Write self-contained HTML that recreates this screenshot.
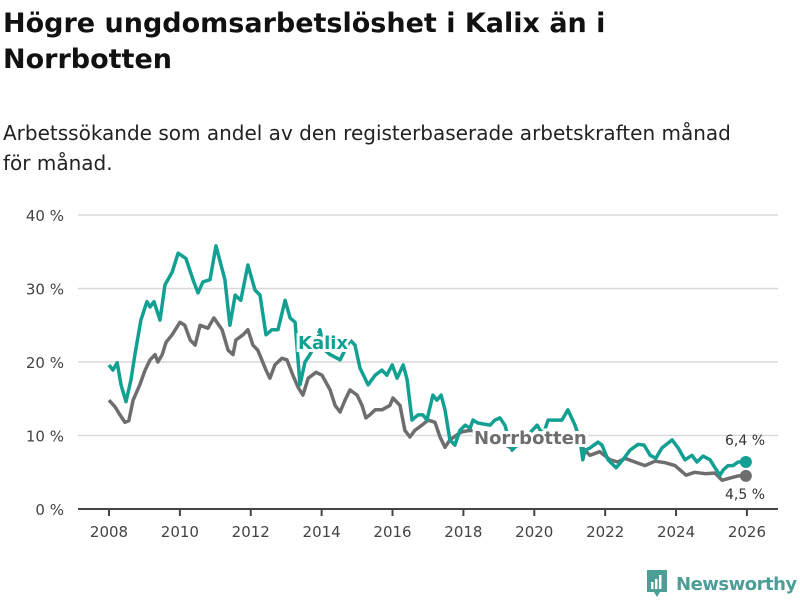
<!DOCTYPE html>
<html><head><meta charset="utf-8"><style>
body{margin:0;width:800px;height:600px;background:#fff;font-family:"DejaVu Sans","Liberation Sans",sans-serif;overflow:hidden;position:relative}
h1{position:absolute;left:3px;top:6px;margin:0;font-size:27px;line-height:36px;font-weight:bold;color:#111;width:640px}
p{position:absolute;left:3px;top:118px;margin:0;font-size:20px;line-height:30px;color:#222;width:760px}
svg{position:absolute;left:0;top:0}
</style></head><body>
<h1>Högre ungdomsarbetslöshet i Kalix än i Norrbotten</h1>
<p>Arbetssökande som andel av den registerbaserade arbetskraften månad för månad.</p>
<svg id="c" width="800" height="600"></svg>
<script>
const yTicks=[0,10,20,30,40];
const yTickLabels=["0 %","10 %","20 %","30 %","40 %"];
const xTicks=[2008,2010,2012,2014,2016,2018,2020,2022,2024,2026];
const kalixT=[2008.00,2008.11,2008.23,2008.34,2008.48,2008.62,2008.73,2008.90,2009.07,2009.16,2009.27,2009.44,2009.58,2009.78,2009.95,2010.17,2010.37,2010.51,2010.65,2010.85,2011.02,2011.27,2011.41,2011.56,2011.72,2011.92,2012.12,2012.26,2012.43,2012.60,2012.77,2012.97,2013.11,2013.25,2013.39,2013.53,2013.67,2013.81,2013.95,2014.09,2014.24,2014.52,2014.80,2014.94,2015.08,2015.31,2015.51,2015.70,2015.84,2015.99,2016.13,2016.30,2016.41,2016.55,2016.72,2016.86,2016.97,2017.14,2017.25,2017.37,2017.48,2017.62,2017.76,2017.90,2018.05,2018.19,2018.27,2018.41,2018.75,2018.89,2019.03,2019.17,2019.37,2019.51,2019.65,2019.94,2020.08,2020.25,2020.39,2020.58,2020.78,2020.95,2021.15,2021.29,2021.37,2021.43,2021.57,2021.80,2021.91,2022.08,2022.31,2022.50,2022.70,2022.93,2023.10,2023.27,2023.43,2023.60,2023.89,2024.06,2024.25,2024.45,2024.59,2024.76,2024.96,2025.10,2025.24,2025.33,2025.47,2025.61,2025.75,2025.97];
const kalixV=[19.6,18.9,19.9,16.9,14.6,17.6,21.0,25.7,28.2,27.5,28.2,25.7,30.5,32.2,34.8,34.1,31.2,29.4,30.9,31.2,35.8,31.2,25.0,29.1,28.4,33.2,29.8,29.1,23.7,24.4,24.4,28.4,26.0,25.4,16.9,20.0,21.0,22.3,24.4,21.6,21.0,20.3,23.0,22.3,19.2,16.9,18.2,18.9,18.2,19.6,17.8,19.6,17.6,12.1,12.8,12.8,12.1,15.5,14.8,15.5,13.5,9.4,8.7,10.7,11.4,11.0,12.1,11.7,11.4,12.1,12.4,11.4,8.0,8.7,9.4,10.7,11.4,10.1,12.1,12.1,12.1,13.5,11.4,9.4,6.7,8.0,8.3,9.1,8.7,6.7,5.6,6.7,8.0,8.8,8.7,7.3,6.9,8.3,9.4,8.3,6.7,7.3,6.4,7.2,6.7,5.6,4.6,5.3,5.9,5.9,6.4,6.4];
const norrT=[2008.00,2008.17,2008.31,2008.45,2008.56,2008.68,2008.87,2009.02,2009.16,2009.30,2009.38,2009.50,2009.61,2009.78,2010.00,2010.14,2010.29,2010.43,2010.57,2010.79,2010.96,2011.19,2011.36,2011.50,2011.58,2011.78,2011.92,2012.06,2012.20,2012.43,2012.54,2012.68,2012.88,2013.02,2013.19,2013.33,2013.47,2013.62,2013.84,2014.01,2014.24,2014.38,2014.52,2014.66,2014.80,2015.00,2015.14,2015.25,2015.36,2015.51,2015.70,2015.93,2016.01,2016.21,2016.35,2016.49,2016.63,2016.83,2017.00,2017.20,2017.34,2017.48,2017.62,2017.82,2017.96,2018.19,2018.41,2018.80,2019.31,2019.60,2019.88,2020.16,2020.58,2021.01,2021.29,2021.57,2021.85,2022.14,2022.36,2022.56,2022.84,2023.12,2023.41,2023.69,2023.97,2024.28,2024.53,2024.82,2025.10,2025.30,2025.52,2025.75,2025.97];
const norrV=[14.8,13.9,12.8,11.8,12.0,14.8,16.9,18.9,20.3,21.0,20.0,21.0,22.7,23.7,25.4,25.0,23.0,22.3,25.0,24.6,26.0,24.4,21.6,21.0,23.0,23.7,24.4,22.3,21.6,18.9,17.8,19.6,20.5,20.3,18.2,16.6,15.5,17.8,18.6,18.2,16.2,14.1,13.2,14.8,16.2,15.5,14.1,12.4,12.8,13.5,13.5,14.1,15.1,14.1,10.7,9.8,10.7,11.4,12.1,11.8,9.8,8.4,9.4,10.1,10.5,10.7,10.5,9.8,8.4,8.7,9.4,9.7,9.4,10.1,8.7,7.3,7.8,6.7,6.4,6.9,6.4,5.9,6.5,6.3,5.9,4.6,5.0,4.8,4.9,3.9,4.2,4.5,4.5];
const NS="http://www.w3.org/2000/svg",svg=document.getElementById('c');
const X=t=>109+(t-2008)*35.44, Y=v=>509-v*7.35;
function mk(tag,at,txt){const e=document.createElementNS(NS,tag);for(const k in at)e.setAttribute(k,at[k]);if(txt!=null)e.textContent=txt;svg.appendChild(e);return e;}
yTicks.forEach((v,i)=>{
 if(v>0){const g=mk('line',{x1:78,x2:778,y1:Y(v),y2:Y(v),stroke:'#d9d9d9','stroke-width':1.5});
 
 }
 const t=mk('text',{x:64,y:Y(v)+6,'text-anchor':'end','font-size':15,fill:'#444'},yTickLabels[i]);
 
 
});
const ax=mk('line',{x1:78,x2:778,y1:509,y2:509,stroke:'#444','stroke-width':2});


xTicks.forEach(yr=>{
 const tk=mk('line',{x1:X(yr),x2:X(yr),y1:509,y2:516,stroke:'#444','stroke-width':2});
 
 
 const t=mk('text',{x:X(yr),y:537,'text-anchor':'middle','font-size':15,fill:'#444'},String(yr));
 
 
});
function line(T,V,col,name){
 const d=T.map((t,i)=>(i?'L':'M')+X(t).toFixed(1)+','+Y(V[i]).toFixed(1)).join('');
 const p=mk('path',{d:d,fill:'none',stroke:col,'stroke-width':3.5,'stroke-linejoin':'round'});
 
 
}
line(norrT,norrV,'#6e6e70','norrbotten-line');
line(kalixT,kalixV,'#12a093','kalix-line');
const dk=mk('circle',{cx:X(kalixT[kalixT.length-1]),cy:Y(kalixV[kalixV.length-1]),r:6,fill:'#12a093'});


const dn=mk('circle',{cx:X(norrT[norrT.length-1]),cy:Y(norrV[norrV.length-1]),r:6,fill:'#6e6e70'});


const lk=mk('text',{x:745,y:445,'text-anchor':'middle','font-size':14,fill:'#333'},kalixV[kalixV.length-1].toFixed(1).replace('.',',')+' %');


const ln=mk('text',{x:745,y:499,'text-anchor':'middle','font-size':14,fill:'#333'},norrV[norrV.length-1].toFixed(1).replace('.',',')+' %');


const kl=mk('text',{x:298,y:349,'font-size':18,'font-weight':'bold',fill:'#12a093',stroke:'#fff','stroke-width':6,'paint-order':'stroke'},'Kalix');


const nl=mk('text',{x:474,y:444,'font-size':18,'font-weight':'bold',fill:'#6e6e70',stroke:'#fff','stroke-width':6,'paint-order':'stroke'},'Norrbotten');


</script>
<div style="position:absolute;left:645px;top:570px;display:flex;align-items:center">
<svg width="24" height="28" viewBox="0 0 24 28" style="position:static"><path d="M2 0h20v22h-7l-3 5-3-5H2z" fill="#4c9e96"/><rect x="6" y="12" width="2.5" height="7" fill="#fff"/><rect x="10" y="9" width="2.5" height="10" fill="#fff"/><rect x="14" y="5" width="2.5" height="14" fill="#fff"/></svg>
<span style="font-size:18px;font-weight:bold;color:#4c9e96;margin-left:7px;letter-spacing:-0.5px">Newsworthy</span></div>
</body></html>
